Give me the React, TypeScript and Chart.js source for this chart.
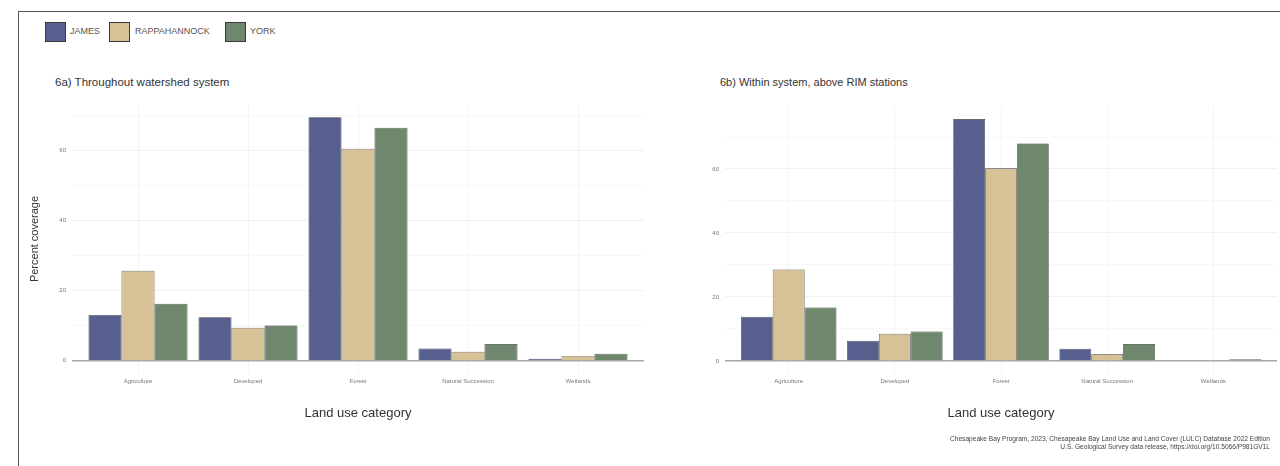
import React, { useEffect, useRef } from "react";
import { Chart, registerables } from "chart.js";

Chart.register(...registerables);

const categories = ["Agriculture", "Developed", "Forest", "Natural Succession", "Wetlands"];
const seriesNames = ["JAMES", "RAPPAHANNOCK", "YORK"];

const james6a = [13.1, 12.4, 69.5, 3.5, 0.6];
const rapp6a = [25.7, 9.4, 60.5, 2.6, 1.4];
const york6a = [16.3, 10.1, 66.5, 4.8, 2.0];

const james6b = [13.8, 6.3, 75.6, 3.8, 0.2];
const rapp6b = [28.6, 8.5, 60.2, 2.1, 0.3];
const york6b = [16.7, 9.2, 68.0, 5.3, 0.5];

const yMajorTicks = [0, 20, 40, 60];
const yMinorTicks = [10, 30, 50, 70];

const seriesColors = ["#575f8f", "#d6c296", "#6e876d"];
const FONT = "'Liberation Sans', Arial, Helvetica, sans-serif";

type PanelProps = {
  series: number[][];
  left: number;
  width: number;
  pad: { left: number; right: number; top: number; bottom: number };
  yWidth: number;
  yTitle?: string;
};

function Panel({ series, left, width, pad, yWidth, yTitle }: PanelProps) {
  const ref = useRef<HTMLCanvasElement | null>(null);
  useEffect(() => {
    if (!ref.current) return;
    const all = series.flat();
    const maxV = Math.max(...all);
    const allTicks = [...yMajorTicks, ...yMinorTicks].sort((a, b) => a - b).filter((v) => v <= maxV * 1.05);
    const chart = new Chart(ref.current, {
      type: "bar",
      data: {
        datasets: series.map((vals, si) => ({
          label: seriesNames[si],
          data: vals.map((v, i) => ({ x: i + 1, y: v })),
          backgroundColor: seriesColors[si],
          borderColor: "#3a3a3a",
          borderWidth: 0.7,
          categoryPercentage: 0.9,
          barPercentage: 1,
        })),
      },
      options: {
        animation: false,
        responsive: false,
        maintainAspectRatio: false,
        events: [],
        layout: { padding: pad },
        plugins: { legend: { display: false }, tooltip: { enabled: false } },
        scales: {
          x: {
            type: "linear",
            offset: false,
            min: 0.4,
            max: categories.length + 0.6,
            afterBuildTicks: (s: any) => {
              s.ticks = categories.map((_, i) => ({ value: i + 1 }));
            },
            ticks: {
              autoSkip: false,
              maxRotation: 0,
              padding: 5,
              color: "#777",
              font: { family: FONT, size: 6 },
              callback: (v: any) => categories[Math.round(Number(v)) - 1],
            },
            grid: { offset: false, color: "#ececec", lineWidth: 0.6, drawTicks: false },
            border: { display: false },
            title: {
              display: true,
              text: "Land use category",
              color: "#333",
              font: { family: FONT, size: 13 },
              padding: { top: 15, bottom: 4 },
            },
          },
          y: {
            type: "linear",
            min: -0.05 * maxV,
            max: 1.05 * maxV,
            afterBuildTicks: (s: any) => {
              s.ticks = allTicks.map((v) => ({ value: v }));
            },
            afterFit: (s: any) => {
              s.width = yWidth;
            },
            ticks: {
              autoSkip: false,
              padding: 6,
              color: "#777",
              font: { family: FONT, size: 6 },
              callback: (v: any) => (yMajorTicks.includes(Number(v)) ? String(v) : ""),
            },
            grid: {
              drawTicks: false,
              color: (c: any) =>
                c.tick && c.tick.value === 0
                  ? "#a8a8a8"
                  : yMajorTicks.includes(c.tick?.value)
                  ? "#e8e8e8"
                  : "#f3f3f3",
              lineWidth: (c: any) => (c.tick && c.tick.value === 0 ? 1.4 : 0.6),
            },
            border: { display: false },
            title: yTitle
              ? {
                  display: true,
                  text: yTitle,
                  color: "#333",
                  font: { family: FONT, size: 11 },
                  padding: { top: 4, bottom: 4 },
                }
              : { display: false },
          },
        },
      },
    } as any);
    return () => chart.destroy();
  }, []);
  return (
    <canvas
      ref={ref}
      width={width}
      height={466}
      style={{ position: "absolute", left, top: 0, width, height: 466 }}
    />
  );
}

const legendItems = [
  { swatch: 45, text: 70 },
  { swatch: 109, text: 135 },
  { swatch: 225, text: 250 },
];

export default function App() {
  return (
    <div
      style={{
        position: "fixed",
        left: 0,
        top: 0,
        width: 1280,
        height: 466,
        background: "#fff",
        overflow: "hidden",
        fontFamily: FONT,
      }}
    >
      <div
        style={{
          position: "absolute",
          left: 18,
          top: 11,
          width: 1262,
          height: 455,
          borderTop: "1px solid #555",
          borderLeft: "1px solid #555",
        }}
      />
      {seriesNames.map((n, i) => (
        <React.Fragment key={n}>
          <div
            style={{
              position: "absolute",
              left: legendItems[i].swatch,
              top: 22,
              width: 19,
              height: 18,
              background: seriesColors[i],
              border: "1px solid #3a3a3a",
            }}
          />
          <div
            style={{
              position: "absolute",
              left: legendItems[i].text,
              top: 26,
              fontSize: 9,
              lineHeight: "11px",
              color: "#555",
              whiteSpace: "nowrap",
            }}
          >
            {n}
          </div>
        </React.Fragment>
      ))}
      <div style={{ position: "absolute", left: 55, top: 75, fontSize: 11.5, lineHeight: "14px", color: "#333", whiteSpace: "nowrap" }}>
        6a) Throughout watershed system
      </div>
      <div style={{ position: "absolute", left: 720, top: 75, fontSize: 11, lineHeight: "14px", color: "#333", whiteSpace: "nowrap" }}>
        6b) Within system, above RIM stations
      </div>
      <Panel
        series={[james6a, rapp6a, york6a]}
        left={0}
        width={665}
        pad={{ left: 24, right: 21, top: 105, bottom: 41.2 }}
        yWidth={48}
        yTitle="Percent coverage"
      />
      <Panel
        series={[james6b, rapp6b, york6b]}
        left={665}
        width={615}
        pad={{ left: 0, right: 3, top: 107, bottom: 41.2 }}
        yWidth={60}
      />
      <div
        style={{
          position: "absolute",
          right: 10,
          top: 435,
          fontSize: 6.6,
          lineHeight: "7.5px",
          color: "#444",
          textAlign: "right",
          whiteSpace: "nowrap",
        }}
      >
        Chesapeake Bay Program, 2023, Chesapeake Bay Land Use and Land Cover (LULC) Database 2022 Edition
        <br />
        U.S. Geological Survey data release, https://doi.org/10.5066/P981GV1L
      </div>
    </div>
  );
}
